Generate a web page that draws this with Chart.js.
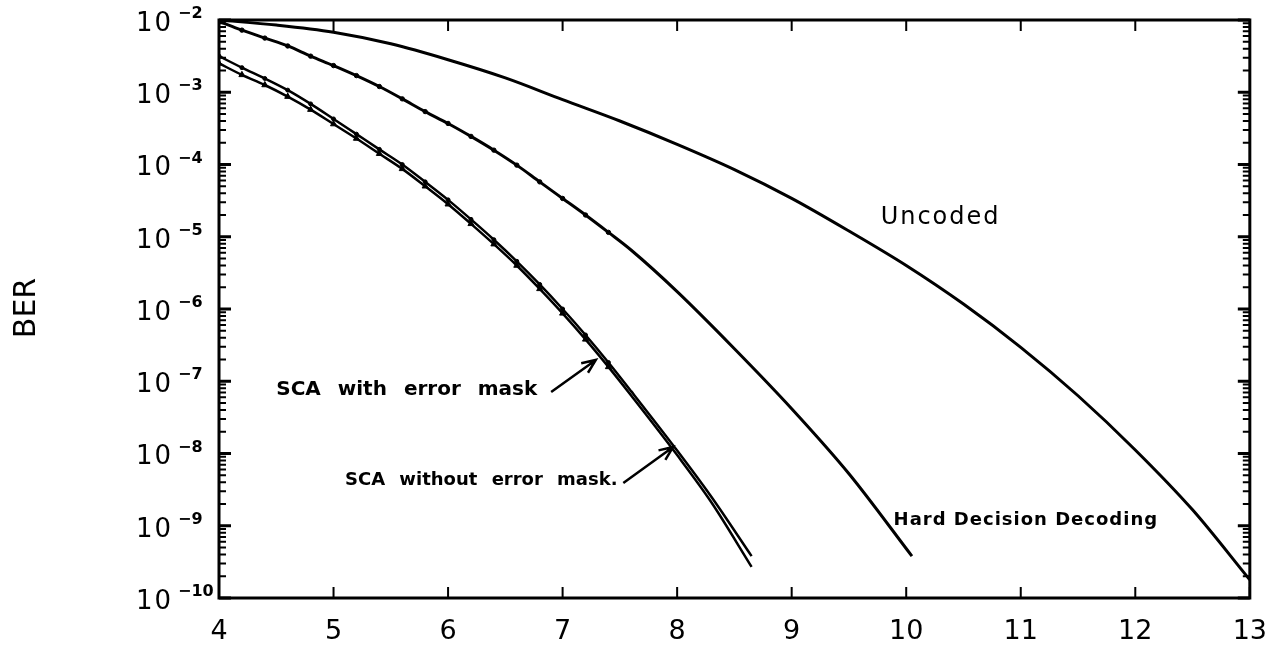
<!DOCTYPE html>
<html>
<head>
<meta charset="utf-8">
<script src="https://cdn.jsdelivr.net/npm/chart.js@4.4.1/dist/chart.umd.min.js"></script>
<style>
  body { margin: 0; background: #fff; }
</style>
</head>
<body>
<canvas id="berChart" width="1285" height="648"></canvas>
<script>
// Eb/N0 (dB) and BER
var uncodedX = [4, 4.5, 5, 5.5, 6, 6.5, 7, 7.5, 8, 8.5, 9, 9.5, 10, 10.5, 11, 11.5, 12, 12.5, 13];
var uncodedBer = [1.0e-2, 8.5e-3, 6.76e-3, 4.68e-3, 2.82e-3, 1.58e-3, 7.9e-4, 4.0e-4, 1.9e-4, 8.5e-5, 3.4e-5,
    1.2e-5, 4.0e-6, 1.17e-6, 2.95e-7, 6.3e-8, 1.12e-8, 1.66e-9, 1.78e-10];

var hardX = [4, 4.2, 4.4, 4.6, 4.8, 5, 5.2, 5.4, 5.6, 5.8, 6, 6.2, 6.4, 6.6, 6.8, 7, 7.2, 7.4, 7.6, 8, 8.5, 9, 9.5, 10.05];
var hardBer = [9.55e-3, 7.24e-3, 5.62e-3, 4.37e-3, 3.16e-3, 2.34e-3, 1.70e-3, 1.20e-3, 8.1e-4, 5.4e-4, 3.7e-4,
    2.45e-4, 1.58e-4, 9.8e-5, 5.75e-5, 3.39e-5, 2.0e-5, 1.15e-5, 6.5e-6, 1.74e-6, 2.82e-7, 4.17e-8, 5.25e-9, 3.8e-10];

var scaX = [4, 4.2, 4.4, 4.6, 4.8, 5, 5.2, 5.4, 5.6, 5.8, 6, 6.2, 6.4, 6.6, 6.8, 7, 7.2, 7.4, 7.6, 8, 8.3, 8.65];
var scaMaskBer = [3.16e-3, 2.19e-3, 1.55e-3, 1.07e-3, 6.9e-4, 4.27e-4, 2.63e-4, 1.62e-4, 1.0e-4, 5.75e-5, 3.24e-5,
    1.74e-5, 9.1e-6, 4.57e-6, 2.19e-6, 1.0e-6, 4.37e-7, 1.82e-7, 7.24e-8, 1.1e-8, 2.5e-9, 3.8e-10];
var scaNoMaskBer = [2.51e-3, 1.74e-3, 1.26e-3, 8.7e-4, 5.75e-4, 3.63e-4, 2.29e-4, 1.41e-4, 8.7e-5, 5.0e-5, 2.82e-5,
    1.51e-5, 7.9e-6, 4.0e-6, 1.9e-6, 8.7e-7, 3.8e-7, 1.58e-7, 6.3e-8, 9.5e-9, 2.1e-9, 2.7e-10];

var xTicks = [4, 5, 6, 7, 8, 9, 10, 11, 12, 13];
var yDecades = [-10, -9, -8, -7, -6, -5, -4, -3, -2];
var yMinors = [2, 3, 4, 5, 6, 7, 8, 9];

// text on the plot, placed in data units
var notes = [
    { text: 'Uncoded', x: 10.3, y: 1.82e-5, font: '24px "DejaVu Sans"', align: 'center', ls: 2, ws: 0 },
    { text: 'Hard Decision Decoding', x: 9.89, y: 1.2e-9, font: 'bold 18px "DejaVu Sans"', align: 'left', ls: 1, ws: 0 },
    { text: 'SCA with error mask', x: 4.5, y: 7.6e-8, font: 'bold 20px "DejaVu Sans"', align: 'left', ls: 0, ws: 10 },
    { text: 'SCA without error mask.', x: 5.1, y: 4.3e-9, font: 'bold 18px "DejaVu Sans"', align: 'left', ls: 0, ws: 8 }
];
var arrows = [
    { x0: 6.9, y0: 7.1e-8, x1: 7.29, y1: 1.97e-7 },
    { x0: 7.53, y0: 3.9e-9, x1: 7.965, y1: 1.23e-8 }
];

function toPoints(xs, ys) {
    return xs.map(function (x, i) { return { x: x, y: ys[i] }; });
}

function markerRadius(r) {
    return function (ctx) {
        return ctx.raw && ctx.raw.x <= 7.4 ? r : 0;
    };
}

function line(label, xs, ys, style, r, w) {
    return {
        label: label,
        data: toPoints(xs, ys),
        borderColor: '#000',
        backgroundColor: '#000',
        borderWidth: w,
        pointStyle: style,
        pointRadius: markerRadius(r),
        pointBorderWidth: 1,
        cubicInterpolationMode: 'monotone',
        fill: false
    };
}

// box, inward ticks, y labels and the text/arrows
var plotFrame = {
    id: 'plotFrame',
    afterDatasetsDraw: function (chart) {
        var ctx = chart.ctx;
        var a = chart.chartArea;
        var xs = chart.scales.x;
        var ys = chart.scales.y;
        ctx.save();
        ctx.strokeStyle = '#000';
        ctx.fillStyle = '#000';
        ctx.lineWidth = 3;
        ctx.strokeRect(a.left, a.top, a.right - a.left, a.bottom - a.top);

        ctx.lineWidth = 2;
        xTicks.forEach(function (v) {
            var px = xs.getPixelForValue(v);
            ctx.beginPath();
            ctx.moveTo(px, a.bottom); ctx.lineTo(px, a.bottom - 11);
            ctx.moveTo(px, a.top); ctx.lineTo(px, a.top + 11);
            ctx.stroke();
        });

        ys.ticks.forEach(function (t) {
            var py = ys.getPixelForValue(t.value);
            var len = t.major ? 12 : 7;
            ctx.lineWidth = t.major ? 3 : 2;
            ctx.beginPath();
            ctx.moveTo(a.left, py); ctx.lineTo(a.left + len, py);
            ctx.moveTo(a.right, py); ctx.lineTo(a.right - len, py);
            ctx.stroke();
        });

        // 10^n labels
        ctx.textBaseline = 'middle';
        ctx.textAlign = 'left';
        yDecades.forEach(function (e) {
            var py = ys.getPixelForValue(Math.pow(10, e));
            ctx.font = '26px "DejaVu Sans"';
            ctx.letterSpacing = '2px';
            ctx.fillText('10', 136, py + 4);
            ctx.font = 'bold 16px "DejaVu Sans"';
            ctx.letterSpacing = '0px';
            ctx.fillText('\u2212' + Math.abs(e), 178, py - 6);
        });

        // axis title
        ctx.save();
        ctx.translate(27, 308);
        ctx.rotate(-Math.PI / 2);
        ctx.textAlign = 'center';
        ctx.font = '30px "DejaVu Sans"';
        ctx.fillText('BER', 0, 0);
        ctx.restore();

        notes.forEach(function (n) {
            ctx.font = n.font;
            ctx.letterSpacing = n.ls + 'px';
            ctx.wordSpacing = n.ws + 'px';
            ctx.textAlign = n.align;
            ctx.fillText(n.text, xs.getPixelForValue(n.x), ys.getPixelForValue(n.y));
        });
        ctx.letterSpacing = '0px';
        ctx.wordSpacing = '0px';

        ctx.lineWidth = 2.5;
        arrows.forEach(function (ar) {
            var x0 = xs.getPixelForValue(ar.x0), y0 = ys.getPixelForValue(ar.y0);
            var x1 = xs.getPixelForValue(ar.x1), y1 = ys.getPixelForValue(ar.y1);
            var ang = Math.atan2(y1 - y0, x1 - x0);
            ctx.beginPath();
            ctx.moveTo(x0, y0); ctx.lineTo(x1, y1);
            ctx.moveTo(x1 - 15 * Math.cos(ang - 0.4), y1 - 15 * Math.sin(ang - 0.4));
            ctx.lineTo(x1, y1);
            ctx.lineTo(x1 - 15 * Math.cos(ang + 0.4), y1 - 15 * Math.sin(ang + 0.4));
            ctx.stroke();
        });
        ctx.restore();
    }
};

var berCtx = document.getElementById('berChart').getContext('2d');
var berChart = new Chart(berCtx, {
    type: 'line',
    data: {
        datasets: [
            line('Uncoded', uncodedX, uncodedBer, 'circle', 0, 3),
            line('Hard Decision Decoding', hardX, hardBer, 'circle', 2.2, 3),
            line('SCA with error mask', scaX, scaMaskBer, 'circle', 2, 2.5),
            line('SCA without error mask', scaX, scaNoMaskBer, 'triangle', 3.5, 2.5)
        ]
    },
    options: {
        responsive: false,
        animation: false,
        layout: { padding: { top: 20, right: 31, left: 0, bottom: 0 } },
        plugins: {
            legend: { display: false },
            tooltip: { enabled: false }
        },
        scales: {
            x: {
                type: 'linear',
                min: 4,
                max: 13,
                grid: { display: false, drawTicks: false },
                border: { display: false },
                ticks: {
                    stepSize: 1,
                    autoSkip: false,
                    maxRotation: 0,
                    padding: 18,
                    color: '#000',
                    font: { family: 'DejaVu Sans', size: 27 }
                },
                afterFit: function (scale) { scale.height = 50; }
            },
            y: {
                type: 'logarithmic',
                min: 1e-10,
                max: 1e-2,
                grid: { display: false },
                border: { display: false },
                ticks: { display: false },
                afterFit: function (scale) { scale.width = 219; },
                afterBuildTicks: function (scale) {
                    var t = [];
                    yDecades.forEach(function (e) {
                        t.push({ value: Math.pow(10, e), major: true });
                        if (e < -2) {
                            yMinors.forEach(function (m) {
                                t.push({ value: m * Math.pow(10, e), major: false });
                            });
                        }
                    });
                    scale.ticks = t;
                }
            }
        }
    },
    plugins: [plotFrame]
});
</script>
</body>
</html>
